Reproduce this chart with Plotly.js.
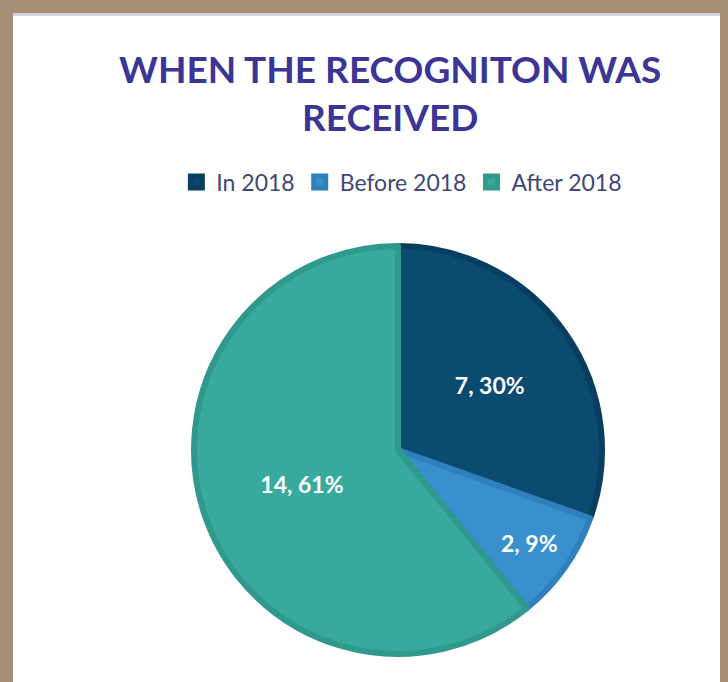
<!DOCTYPE html>
<html>
<head>
<meta charset="utf-8">
<script src="https://cdn.plot.ly/plotly-3.0.1.min.js"></script>
<style>html,body{margin:0;padding:0;background:#a68e77;}#chart{width:728px;height:682px;}</style>
</head>
<body>
<div id="chart"></div>
<script>
const categories = ["In 2018", "Before 2018", "After 2018"];
const counts = [7, 2, 14];
const sliceColors = ["#0b4b6f", "#3990cf", "#38aa9d"];
const borderColors = ["#083f60", "#2f80bd", "#2f998d"];
const titleText = "WHEN THE RECOGNITON WAS<br>RECEIVED";

const trace = {
  type: "pie",
  labels: categories,
  values: counts,
  sort: false,
  direction: "clockwise",
  rotation: 0,
  marker: { colors: sliceColors, line: { color: borderColors, width: 6 } },
  texttemplate: "%{value}, %{percent:.0%}",
  textposition: "inside",
  insidetextorientation: "horizontal",
  textfont: { color: "#ffffff", size: 23, family: "Lato, 'Open Sans', sans-serif", weight: "bold" },
  hoverinfo: "label+value+percent",
  domain: { x: [194/728, 602/728], y: [0.0411, 0.6393] }
};

const layout = {
  width: 728, height: 682,
  margin: { l: 0, r: 0, t: 0, b: 0 },
  paper_bgcolor: "#a68e77",
  title: {
    text: titleText,
    x: 0.536, xanchor: "center",
    y: 0.878, yanchor: "top",
    font: { family: "Lato, 'Open Sans', sans-serif", size: 37, color: "#3b3596", weight: "bold" }
  },
  showlegend: true,
  legend: {
    orientation: "h",
    x: 0.552, xanchor: "center",
    y: 0.733, yanchor: "middle",
    bgcolor: "rgba(0,0,0,0)",
    font: { family: "Lato, 'Open Sans', sans-serif", size: 23, color: "#3f4878" },
    itemwidth: 30,
    traceorder: "normal"
  },
  shapes: [
    { type: "rect", xref: "paper", yref: "paper", layer: "below",
      x0: 13/728, x1: 720/728, y0: 0, y1: 1 - 13/682,
      fillcolor: "#ffffff", line: { width: 0 } },
    { type: "line", xref: "paper", yref: "paper", layer: "below",
      x0: 13/728, x1: 720/728, y0: 1 - 14.5/682, y1: 1 - 14.5/682,
      line: { color: "#d3d3dc", width: 3 } }
  ]
};

Plotly.newPlot("chart", [trace], layout, { displayModeBar: false, staticPlot: true });
</script>
</body>
</html>
